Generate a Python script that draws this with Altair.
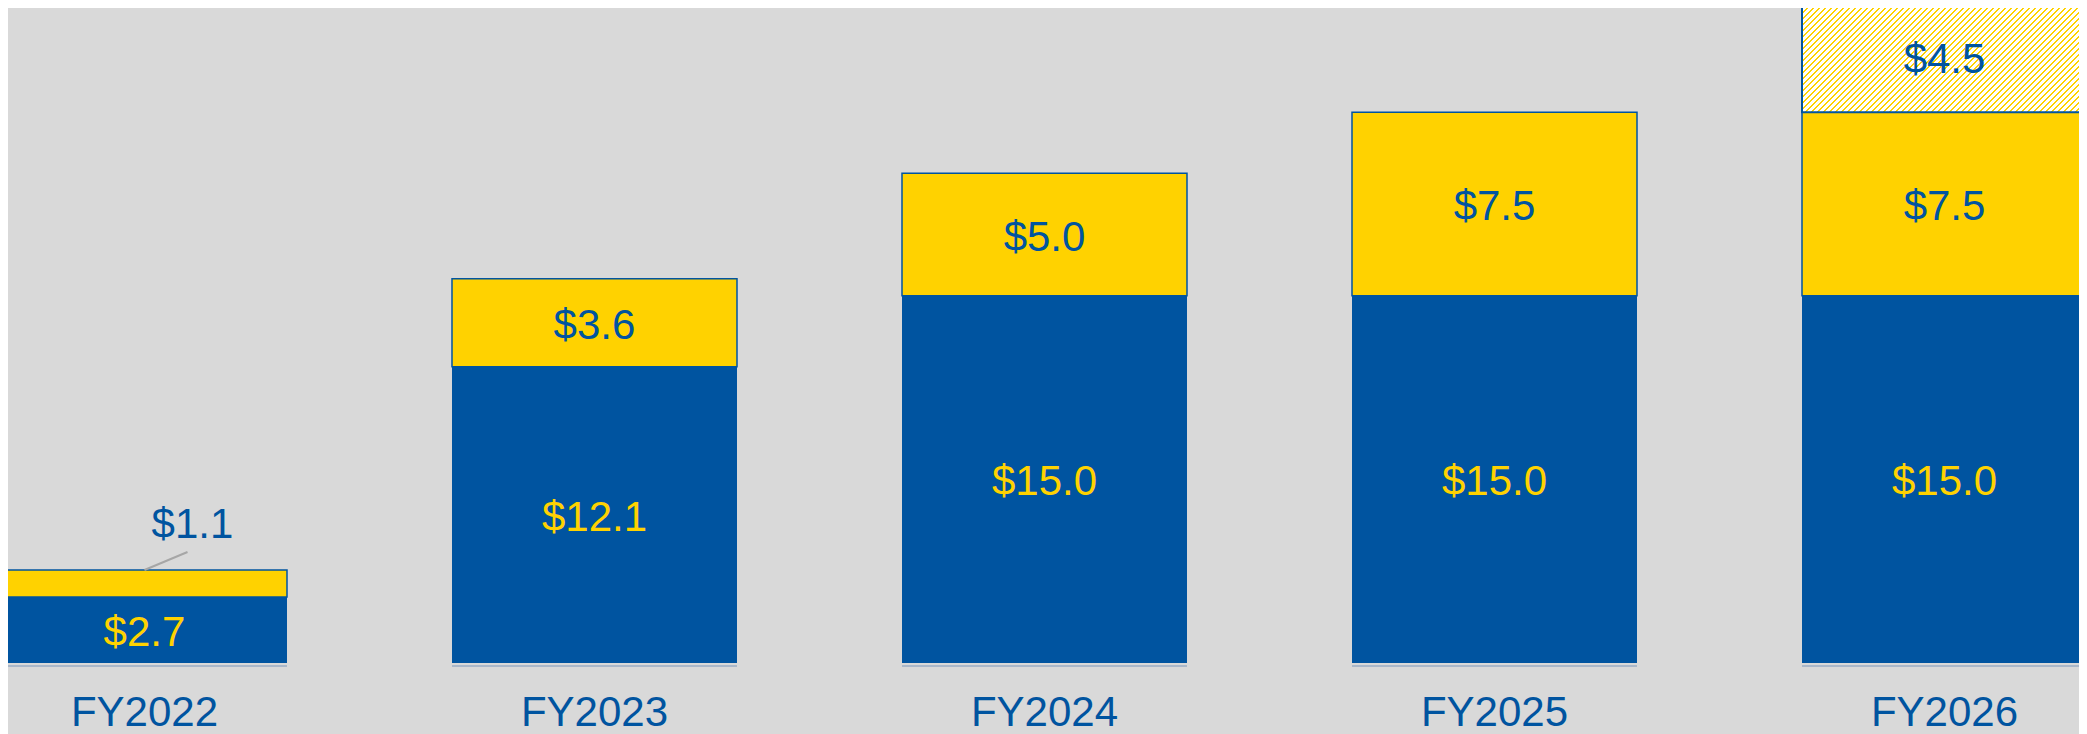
import altair as alt
import pandas as pd

# ---- data ----
categories = ["FY2022", "FY2023", "FY2024", "FY2025", "FY2026"]
base_values = [2.7, 12.1, 15.0, 15.0, 15.0]
incremental_values = [1.1, 3.6, 5.0, 7.5, 7.5]
upside_values = [0.0, 0.0, 0.0, 0.0, 4.5]

BLUE = "#0054A0"
YELLOW = "#FFD200"
BG = "#D9D9D9"
FONT = "Liberation Sans"

segments = [("base", base_values), ("incremental", incremental_values), ("upside", upside_values)]
text_color = {"base": YELLOW, "incremental": BLUE, "upside": BLUE}

rows = []
for i, fy in enumerate(categories):
    y0 = 0.0
    for seg, vals in segments:
        v = vals[i]
        if v <= 0:
            continue
        rows.append(dict(fy=fy, seg=seg, y0=y0, y1=y0 + v, mid=y0 + v / 2,
                         label=f"${v:.1f}", tcolor=text_color[seg],
                         callout=v < 2.0))
        y0 += v
df = pd.DataFrame(rows)

# ---- hatch (white with yellow diagonal stripes) built as a striped gradient ----
bar_w, bar_h = 285.0, 110.0
r = bar_h / bar_w
k = (bar_w + bar_h) / (bar_w + bar_h * bar_h / bar_w)
period = 6.0 / (bar_w + bar_h)
on = 0.33 * period
stops = []
t = 0.0
while t < 1.0:
    a = min(t + period - on, 1.0)
    b = min(t + period, 1.0)
    stops += [{"offset": t, "color": "#FFFFFF"}, {"offset": a, "color": "#FFFFFF"},
              {"offset": a, "color": YELLOW}, {"offset": b, "color": YELLOW}]
    t += period
hatch = {"gradient": "linear", "x1": 0, "y1": 0, "x2": k, "y2": k * r, "stops": stops}

x_enc = alt.X("fy:N", sort=categories,
              scale=alt.Scale(range=[-88.5, 2161.5], paddingInner=0.36667, paddingOuter=0.18333),
              axis=alt.Axis(title=None, labelFontSize=42, labelColor=BLUE, labelFont=FONT,
                            labelPadding=62, labelBaseline="alphabetic", labelAngle=0,
                            domain=False, ticks=False, grid=False))
y_scale = alt.Scale(domain=[0, 27], range=[655, -6])

base = alt.Chart(df)

shadow = base.transform_filter(alt.datum.seg == "base").mark_bar(
    fill=None, stroke="#A9B7C9", strokeWidth=2, yOffset=3, y2Offset=3
).encode(x=x_enc, y=alt.Y("y0:Q", scale=y_scale, axis=None), y2="y0:Q")

bars_base = base.transform_filter(alt.datum.seg == "base").mark_bar(
    color=BLUE
).encode(x=x_enc, y=alt.Y("y0:Q", scale=y_scale, axis=None), y2="y1:Q")

bars_inc = base.transform_filter(alt.datum.seg == "incremental").mark_bar(
    fill=YELLOW, stroke=BLUE, strokeWidth=1.5
).encode(x=x_enc, y=alt.Y("y0:Q", scale=y_scale, axis=None), y2="y1:Q")

bars_up = base.transform_filter(alt.datum.seg == "upside").mark_bar(
    fill=hatch, stroke=BLUE, strokeWidth=2
).encode(x=x_enc, y=alt.Y("y0:Q", scale=y_scale, axis=None), y2="y1:Q")

labels_in = base.transform_filter(alt.datum.callout == False).mark_text(
    fontSize=42, font=FONT, baseline="middle", align="center", dy=3
).encode(x=x_enc, y=alt.Y("mid:Q", scale=y_scale, axis=None),
         text="label:N", color=alt.Color("tcolor:N", scale=None))

leader = base.transform_filter(alt.datum.callout == True).mark_rule(
    color="#A6A6A6", strokeWidth=2, x2Offset=43, y2Offset=-18
).encode(x=x_enc, x2="fy:N", y=alt.Y("y1:Q", scale=y_scale, axis=None), y2="y1:Q")

labels_out = base.transform_filter(alt.datum.callout == True).mark_text(
    fontSize=42, font=FONT, baseline="middle", align="center", dx=48, dy=-45
).encode(x=x_enc, y=alt.Y("y1:Q", scale=y_scale, axis=None),
         text="label:N", color=alt.value(BLUE))

chart = alt.layer(shadow, bars_base, bars_inc, bars_up, leader, labels_in, labels_out).properties(
    width=2071, height=655,
    autosize=alt.AutoSizeParams(type="none"),
    padding={"left": 0, "top": 0, "right": 0, "bottom": 71},
    background=BG,
).configure_view(stroke=None)

chart.save("out.html", embed_options={"renderer": "svg", "actions": False})
